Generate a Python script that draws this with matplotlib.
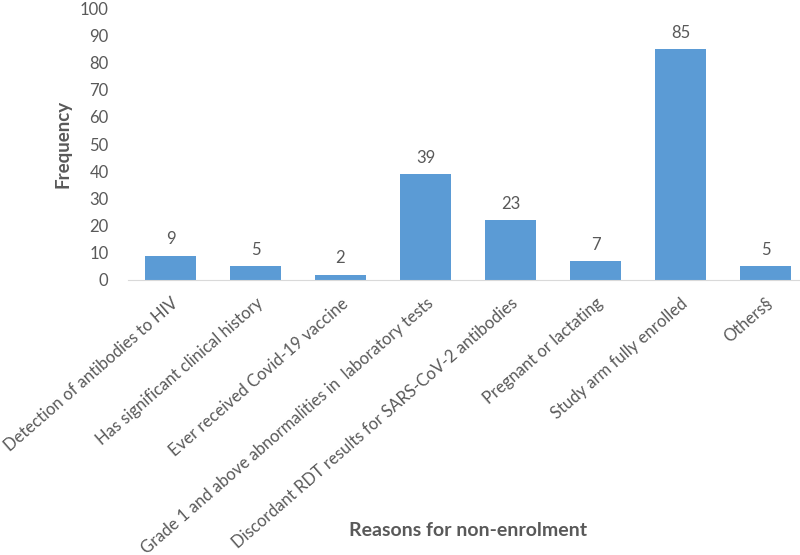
import numpy as np
import matplotlib.pyplot as plt

plt.rcParams['font.family'] = ['Lato', 'DejaVu Sans']

reasons = [
    "Detection of antibodies to HIV",
    "Has significant clinical history",
    "Ever received Covid-19 vaccine",
    "Grade 1 and above abnormalities in  laboratory tests",
    "Discordant RDT results for SARS-CoV-2 antibodies",
    "Pregnant or lactating",
    "Study arm fully enrolled",
    "Others§",
]
frequency = [9, 5, 2, 39, 22, 7, 85, 5]
bar_labels = ["9", "5", "2", "39", "23", "7", "85", "5"]

grey = "#595959"
fig = plt.figure(figsize=(8, 5.55), dpi=100)
ax = fig.add_axes([0.16, 0.4955, 0.85, 0.49])

x = np.arange(len(reasons))
bars = ax.bar(x, frequency, width=0.6, color="#5b9bd5")
for b, lab in zip(bars, bar_labels):
    ax.text(b.get_x() + b.get_width() / 2, b.get_height() + 3, lab,
            ha="center", va="bottom", fontsize=12, color=grey)

ax.set_xlim(-0.5, len(reasons) - 0.5)
ax.set_ylim(0, 100)
ax.set_yticks(range(0, 101, 10))
ax.set_xticks(x)
ax.set_xticklabels(reasons, rotation=41, ha="right", rotation_mode="anchor",
                   fontsize=12, color=grey)
ax.tick_params(axis="y", length=0, labelsize=12, labelcolor=grey, pad=14)
ax.tick_params(axis="x", length=0, pad=11)
for s in ["top", "right", "left"]:
    ax.spines[s].set_visible(False)
ax.spines["bottom"].set_color("#d9d9d9")

ax.set_ylabel("Frequency", fontsize=13.5, fontweight="bold", color=grey, labelpad=6)
fig.text(0.585, 0.035, "Reasons for non-enrolment", ha="center", fontsize=14,
         fontweight="bold", color=grey)

fig.savefig("out.png", dpi=100)
